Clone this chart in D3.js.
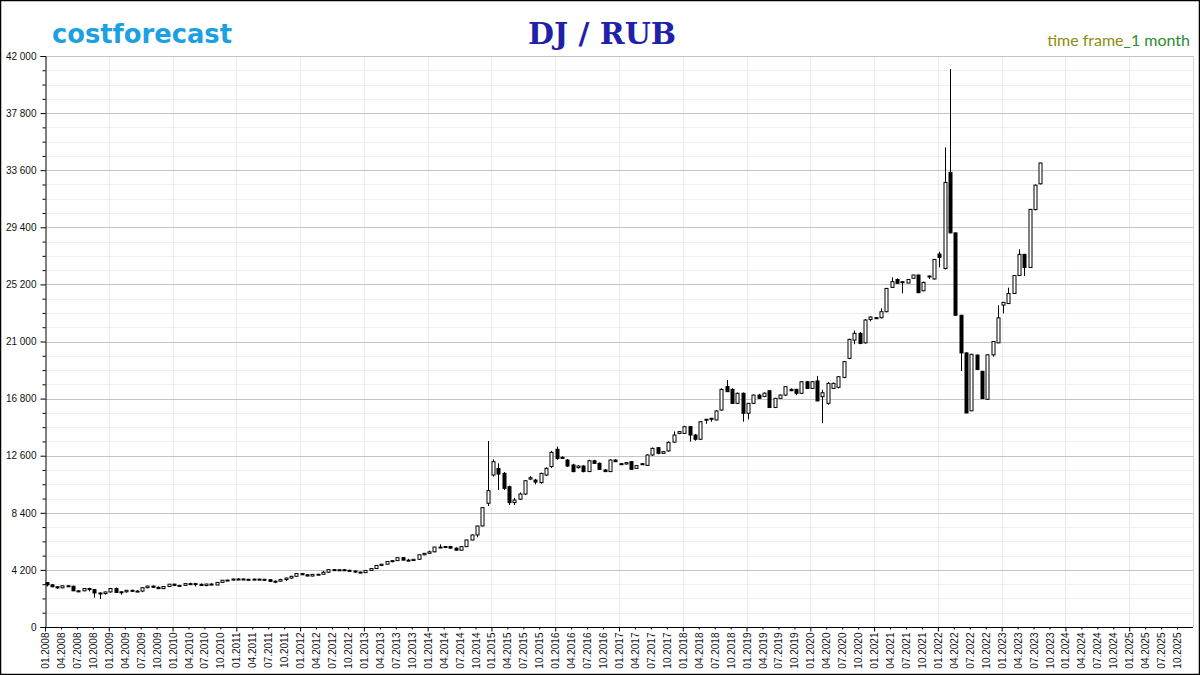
<!DOCTYPE html>
<html><head><meta charset="utf-8">
<script src="https://cdn.jsdelivr.net/npm/d3@7"></script>
<style>html,body{margin:0;padding:0;background:#fff;}svg{display:block;}</style>
</head><body>
<script>
// ---- DATA (monthly candles, 01.2008 .. 08.2023) ----
const startYear = 2008;
const opens = [3260,3100,2960,2880,3030,3000,2660,2660,2830,2750,2500,2460,2580,2830,2540,2590,2700,2640,2640,2890,3010,2920,2820,2980,3150,3060,3060,3190,3190,3140,3050,3160,3090,3280,3440,3450,3530,3530,3510,3500,3520,3510,3480,3350,3370,3490,3600,3730,3930,3840,3750,3870,3880,4030,4220,4190,4210,4170,4120,4040,4000,4160,4300,4530,4620,4820,4880,5100,4920,4890,4980,5310,5420,5530,5880,5880,5920,5800,5650,5910,6400,6770,7430,9100,11180,11660,11300,10320,9150,9400,9780,10880,10810,10620,11180,11800,13070,12480,12280,11920,11720,11840,11430,12230,12040,11550,11430,12280,12010,11990,12160,11670,12010,11890,12650,13190,12770,12950,13600,14240,14240,14735,14120,13810,15250,15330,15230,15960,17680,17480,16450,17190,15720,16450,17060,16960,17380,16150,16820,17060,17480,17480,17190,18040,17550,18100,16940,16450,17550,17630,18360,19760,21100,21600,20900,22620,22750,22750,23190,24980,25560,25330,25300,25650,25890,24730,25760,25600,27430,26370,33440,28990,22930,20160,15900,20000,18800,16750,20020,20900,23680,23790,24530,25850,27410,26450,30700,32600];
const highs = [3290,3150,3000,3060,3080,3030,2720,2850,2880,2790,2560,2600,2860,2900,2640,2720,2740,2700,2900,3030,3050,2980,3000,3160,3190,3100,3200,3260,3250,3200,3180,3220,3290,3450,3480,3550,3580,3570,3540,3560,3560,3530,3510,3420,3550,3630,3760,3960,3960,3870,3890,3910,4120,4250,4260,4240,4250,4210,4150,4060,4170,4310,4550,4640,4850,4920,5120,5140,5010,5000,5320,5440,5620,5900,6080,5960,5970,5850,5950,6420,6800,7450,8800,13680,12330,12040,11400,10400,9500,9900,10800,11100,10900,11350,11750,12950,13270,12550,12350,12000,11900,11900,12300,12300,12100,11620,12330,12330,12060,12130,12200,11900,12060,12700,13200,13240,12950,13650,14380,14420,14800,14760,14200,15150,15300,15380,15950,17550,18170,17550,17250,17250,16480,17100,17150,17250,17420,16850,17100,17700,17550,17520,18080,18100,18100,18470,17450,18000,17980,18450,19560,21200,21800,21700,22650,22860,22800,23440,24950,25720,25640,25420,25600,25900,25920,25400,25840,27060,27600,35280,41040,29000,22950,20200,20080,20050,18850,20050,21020,23670,23900,24960,25870,27780,27450,30750,32550,34150];
const lows = [2980,2930,2800,2860,2960,2650,2560,2640,2620,2150,2060,2380,2520,2520,2380,2520,2580,2580,2560,2850,2880,2800,2800,2950,3040,2980,3050,3150,2980,3020,3000,3060,3070,3260,3390,3430,3480,3470,3440,3460,3450,3420,3330,3220,3330,3380,3540,3700,3820,3730,3720,3820,3860,3980,4130,4150,4130,4100,3990,3960,3980,4130,4280,4480,4600,4760,4860,4900,4860,4850,4960,5280,5400,5500,5820,5800,5780,5620,5630,5880,6380,6600,7400,8900,11060,10080,10080,8970,8970,9340,9700,10800,10500,10550,11100,11700,12300,12380,11780,11380,11650,11380,11400,11990,11560,11400,11400,12130,11950,11950,11560,11620,11950,11850,12600,12700,12740,12900,13550,14180,14200,13630,13700,13750,14950,15100,15200,15900,17300,16400,16400,15100,15270,16400,16780,16900,16100,16100,16780,17000,17350,17050,17150,17500,17500,16600,14990,16350,17500,17550,18300,19700,20800,20800,20850,22480,22650,22700,23150,24950,25250,24540,25280,25620,24560,24700,25600,25550,26450,26300,28950,22930,18830,15740,15880,18900,16780,16730,19880,20880,23070,23780,24500,25830,25820,26430,30650,32550];
const closes = [3100,2960,2880,3030,3000,2660,2660,2830,2750,2500,2460,2580,2830,2540,2590,2700,2640,2640,2890,3010,2920,2820,2980,3150,3060,3060,3190,3190,3140,3050,3160,3090,3280,3440,3450,3530,3530,3510,3500,3520,3510,3480,3350,3370,3490,3600,3730,3930,3840,3750,3870,3880,4030,4220,4190,4210,4170,4120,4040,4000,4160,4300,4530,4620,4820,4880,5100,4920,4890,4980,5310,5420,5530,5880,5880,5920,5800,5650,5910,6400,6770,7430,8780,10030,12160,11250,10200,9150,9340,9780,10760,10980,10660,11300,11670,12850,12400,12430,11840,11430,11840,11430,12230,12040,11600,11430,12280,12160,11990,12090,11600,11870,11990,12650,13140,12770,12900,13580,14120,14370,14735,14120,13810,15100,15280,15350,15890,17480,17310,16450,17190,15720,16450,17060,16820,17200,16150,16820,17060,17680,17380,17190,18040,17550,18040,16630,17230,17920,17920,18410,19520,21160,21600,20860,22580,22800,22680,23190,24900,25400,25280,25400,25560,25890,24590,25350,25820,27040,27190,32700,28990,22930,20160,15740,20060,18940,16800,20020,21000,22740,23880,24530,25850,27410,26450,30720,32500,34130];
const yTickValues = [0,4200,8400,12600,16800,21000,25200,29400,33600,37800,42000];
const tickYears = [2008,2009,2010,2011,2012,2013,2014,2015,2016,2017,2018,2019,2020,2021,2022,2023,2024,2025];
const tickMonths = ["01","04","07","10"];
const titleText = "DJ / RUB";
const brandText = "costforecast";

(function () {
// ---- LAYOUT ----
const W = 1200, H = 675;
const pL = 45, pR = 1193, pT = 56, pB = 627;
const svg = d3.select("body").append("svg").attr("width", W).attr("height", H);
svg.append("rect").attr("x",0).attr("y",0).attr("width",W).attr("height",H).attr("fill","#fff");

const x = d3.scaleLinear().domain([0, 216]).range([pL, pR]);
const y = d3.scaleLinear().domain([0, 42000]).range([pB, pT]);
const snap = v => Math.round(v) + 0.5;

// minor horizontal grid
const minorY = d3.range(0, 42001, 1050).filter(v => v % 4200 !== 0);
svg.append("g").selectAll("line").data(minorY).join("line")
  .attr("x1", pL).attr("x2", pR).attr("y1", d => snap(y(d))).attr("y2", d => snap(y(d)))
  .attr("stroke", "#efefef").attr("stroke-width", 1);
// vertical year grid
const yearIdx = tickYears.map(yr => (yr - startYear) * 12);
svg.append("g").selectAll("line").data(yearIdx.filter(d => d > 0)).join("line")
  .attr("x1", d => snap(x(d))).attr("x2", d => snap(x(d))).attr("y1", pT).attr("y2", pB)
  .attr("stroke", "#ebebeb").attr("stroke-width", 1);
// major horizontal grid
svg.append("g").selectAll("line").data(yTickValues.filter(d => d > 0)).join("line")
  .attr("x1", pL).attr("x2", pR).attr("y1", d => snap(y(d))).attr("y2", d => snap(y(d)))
  .attr("stroke", "#c4c4c4").attr("stroke-width", 1);
// right frame
svg.append("line").attr("x1", snap(pR)).attr("x2", snap(pR)).attr("y1", pT).attr("y2", pB)
  .attr("stroke", "#d8d8d8");

// ---- AXES ----
const fmt = v => v === 0 ? "0" : d3.format(",")(v).replace(/,/g, " ");
const yAxis = d3.axisLeft(y).tickValues(yTickValues).tickFormat(fmt).tickSize(5).tickPadding(4);
const gy = svg.append("g").attr("transform", `translate(${snap(pL)},0)`).call(yAxis);
gy.select(".domain").attr("stroke", "#000");
gy.selectAll(".tick text").attr("font-family", "Liberation Sans, Arial, sans-serif").attr("font-size", 10).attr("fill", "#111");
gy.selectAll(".tick line").attr("stroke", "#000");
const yMinorAxis = d3.axisLeft(y).tickValues(minorY).tickFormat("").tickSize(3);
const gym = svg.append("g").attr("transform", `translate(${snap(pL)},0)`).call(yMinorAxis);
gym.select(".domain").remove();

const qIdx = [];
tickYears.forEach(yr => tickMonths.forEach((m, k) => qIdx.push((yr - startYear) * 12 + k * 3)));
const qLabel = i => tickMonths[(i % 12) / 3] + "." + (startYear + Math.floor(i / 12));
const xAxis = d3.axisBottom(x).tickValues(qIdx).tickFormat(qLabel).tickSize(3).tickPadding(4);
const gx = svg.append("g").attr("transform", `translate(0,${snap(pB)})`).call(xAxis);
gx.select(".domain").attr("stroke", "#000").attr("d", `M${pL},0H${pR}`);
gx.selectAll(".tick line").attr("stroke", "#000").attr("y2", d => d % 12 === 0 ? 4 : 2);
gx.selectAll(".tick text")
  .attr("font-family", "Liberation Sans, Arial, sans-serif").attr("font-size", 10).attr("fill", "#111")
  .attr("text-anchor", "end").attr("transform", "rotate(-90)")
  .attr("x", -5).attr("y", 0).attr("dy", "0.35em");

// ---- CANDLES ----
const data = opens.map((o, i) => ({ i, o, h: highs[i], l: lows[i], c: closes[i] }));
const off = 1.5, bw = 3;
const g = svg.append("g");
g.selectAll("line.wick").data(data).join("line").attr("class", "wick")
  .attr("x1", d => snap(x(d.i) + off)).attr("x2", d => snap(x(d.i) + off))
  .attr("y1", d => y(d.h)).attr("y2", d => y(d.l))
  .attr("stroke", "#000").attr("stroke-width", 1);
g.selectAll("rect.body").data(data).join("rect").attr("class", "body")
  .attr("x", d => snap(x(d.i) + off) - bw / 2)
  .attr("width", bw)
  .attr("y", d => y(Math.max(d.o, d.c)))
  .attr("height", d => Math.max(1, Math.abs(y(d.o) - y(d.c))))
  .attr("fill", d => d.c >= d.o ? "#fff" : "#000")
  .attr("stroke", "#000").attr("stroke-width", 1);

// ---- TITLES ----
svg.append("text").attr("x", 52).attr("y", 43).text(brandText)
  .attr("font-family", "DejaVu Sans, sans-serif").attr("font-weight", "bold").attr("font-size", 26)
  .attr("textLength", 180).attr("lengthAdjust", "spacingAndGlyphs").attr("fill", "#1ba1e2");
svg.append("text").attr("x", 602).attr("y", 44).attr("text-anchor", "middle").text(titleText)
  .attr("font-family", "DejaVu Serif, serif").attr("font-weight", "bold").attr("font-size", 29)
  .attr("textLength", 148).attr("lengthAdjust", "spacingAndGlyphs").attr("fill", "#2020a8");
const tf = svg.append("text").attr("x", 1190).attr("y", 46).attr("text-anchor", "end")
  .attr("font-family", "Lato, Open Sans, sans-serif").attr("font-size", 16);
tf.append("tspan").attr("fill", "#8c8c10").text("time frame");
tf.append("tspan").attr("fill", "#2e8b2e").text("_1 month");

// outer border
svg.append("rect").attr("x", 0.5).attr("y", 0.5).attr("width", W - 1).attr("height", H - 1)
  .attr("fill", "none").attr("stroke", "#000").attr("stroke-width", 1.5);
})();
</script>
</body></html>
